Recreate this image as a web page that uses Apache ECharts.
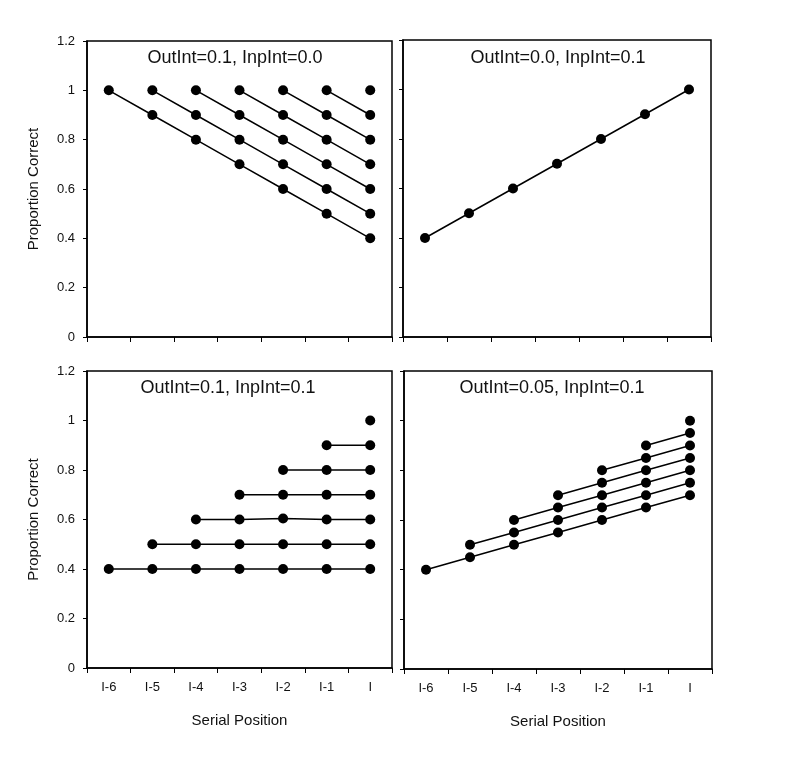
<!DOCTYPE html>
<html>
<head>
<meta charset="utf-8">
<script src="https://cdn.jsdelivr.net/npm/echarts@6/dist/echarts.min.js"></script>
<style>html,body{margin:0;padding:0;background:#fff}#c{width:790px;height:774px}</style>
</head>
<body>
<div id="c"></div>
<script>
const categories = ['I-6', 'I-5', 'I-4', 'I-3', 'I-2', 'I-1', 'I'];
const yTicks = [0, 0.2, 0.4, 0.6, 0.8, 1, 1.2];
const panelTitles = ['OutInt=0.1, InpInt=0.0', 'OutInt=0.0, InpInt=0.1', 'OutInt=0.1, InpInt=0.1', 'OutInt=0.05, InpInt=0.1'];

// Top-left: OutInt=0.1, InpInt=0.0
const topLeft = [
  [1.0, 0.9, 0.8, 0.7, 0.6, 0.5, 0.4],
  [null, 1.0, 0.9, 0.8, 0.7, 0.6, 0.5],
  [null, null, 1.0, 0.9, 0.8, 0.7, 0.6],
  [null, null, null, 1.0, 0.9, 0.8, 0.7],
  [null, null, null, null, 1.0, 0.9, 0.8],
  [null, null, null, null, null, 1.0, 0.9],
  [null, null, null, null, null, null, 1.0]
];
// Top-right: OutInt=0.0, InpInt=0.1
const topRight = [
  [0.4, 0.5, 0.6, 0.7, 0.8, 0.9, 1.0]
];
// Bottom-left: OutInt=0.1, InpInt=0.1
const bottomLeft = [
  [0.4, 0.4, 0.4, 0.4, 0.4, 0.4, 0.4],
  [null, 0.5, 0.5, 0.5, 0.5, 0.5, 0.5],
  [null, null, 0.6, 0.6, 0.604, 0.6, 0.6],
  [null, null, null, 0.7, 0.7, 0.7, 0.7],
  [null, null, null, null, 0.8, 0.8, 0.8],
  [null, null, null, null, null, 0.9, 0.9],
  [null, null, null, null, null, null, 1.0]
];
// Bottom-right: OutInt=0.05, InpInt=0.1
const bottomRight = [
  [0.4, 0.45, 0.5, 0.55, 0.6, 0.65, 0.7],
  [null, 0.5, 0.55, 0.6, 0.65, 0.7, 0.75],
  [null, null, 0.6, 0.65, 0.7, 0.75, 0.8],
  [null, null, null, 0.7, 0.75, 0.8, 0.85],
  [null, null, null, null, 0.8, 0.85, 0.9],
  [null, null, null, null, null, 0.9, 0.95],
  [null, null, null, null, null, null, 1.0]
];

const FONT = "'Liberation Sans', Arial, Helvetica, sans-serif";
const panels = [topLeft, topRight, bottomLeft, bottomRight];
const grids = [
  {left: 87, top: 41, width: 305, height: 296},
  {left: 403, top: 40, width: 308, height: 297},
  {left: 87, top: 371, width: 305, height: 297},
  {left: 404, top: 371, width: 308, height: 298}
];
const titlePos = [[235, 58], [558, 58], [228, 388], [552, 388]];

const chart = echarts.init(document.getElementById('c'), null, {renderer: 'canvas'});

const xAxis = grids.map((g, i) => ({
  type: 'category', gridIndex: i, data: categories, boundaryGap: true,
  axisLine: {show: true, lineStyle: {color: '#000', width: 1.5}},
  axisTick: {show: true, interval: 0, length: 5, lineStyle: {color: '#000', width: 1}},
  axisLabel: {show: i >= 2, interval: 0, margin: 13, fontSize: 13, color: '#111', fontFamily: FONT},
  name: i >= 2 ? 'Serial Position' : '', nameLocation: 'middle', nameGap: 45,
  nameTextStyle: {fontSize: 15, color: '#111', fontFamily: FONT},
  splitLine: {show: false}
}));
const yAxis = grids.map((g, i) => ({
  type: 'value', gridIndex: i, min: yTicks[0], max: yTicks[yTicks.length - 1], interval: 0.2,
  axisLine: {show: true, lineStyle: {color: '#000', width: 1.5}},
  axisTick: {show: true, length: 4, lineStyle: {color: '#000', width: 1}},
  axisLabel: {show: i % 2 === 0, margin: 12, fontSize: 13, color: '#111', fontFamily: FONT},
  name: i % 2 === 0 ? 'Proportion Correct' : '', nameLocation: 'middle', nameGap: 46, nameRotate: 90,
  nameTextStyle: {fontSize: 15, color: '#111', fontFamily: FONT},
  splitLine: {show: false}
}));

const series = [];
panels.forEach((p, i) => {
  p.forEach(arr => {
    series.push({
      type: 'line', xAxisIndex: i, yAxisIndex: i, data: arr,
      symbol: 'circle', symbolSize: 10, showAllSymbol: true, showSymbol: true,
      lineStyle: {color: '#000', width: 1.5}, itemStyle: {color: '#000'},
      animation: false, silent: true
    });
  });
});

const graphic = titlePos.map((pt, i) => ({
  type: 'text', x: pt[0], y: pt[1],
  style: {text: panelTitles[i], font: '18px ' + FONT, fill: '#111', textAlign: 'center', textVerticalAlign: 'middle'}
}));

chart.setOption({
  backgroundColor: '#fff',
  animation: false,
  grid: grids.map(g => Object.assign({show: true, borderColor: '#000', borderWidth: 1.5, containLabel: false}, g)),
  xAxis, yAxis, series, graphic
});
</script>
</body>
</html>
